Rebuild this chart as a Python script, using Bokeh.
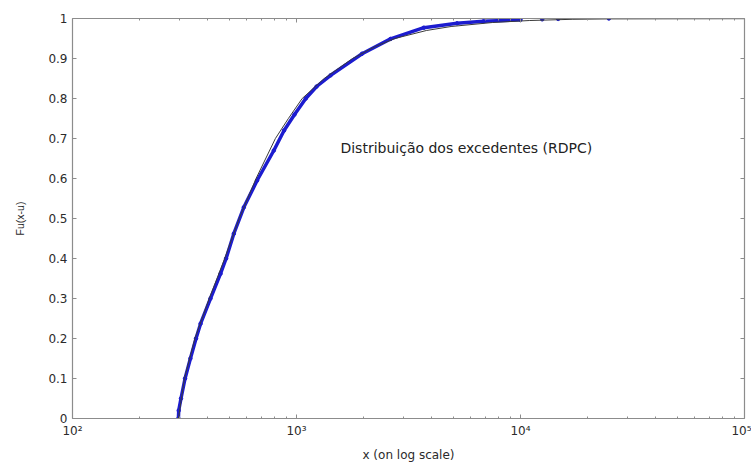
from bokeh.plotting import figure
from bokeh.models import FixedTicker, LogAxis, LinearAxis, Label
from bokeh.embed import file_html
from bokeh.resources import INLINE

emp_x = [297, 298, 305, 318, 336, 356, 373, 413, 458, 485, 525, 582, 667, 792,
         880, 980, 1100, 1230, 1420, 1963, 2630, 3700, 5210, 6840, 10000]
emp_f = [0.0, 0.02, 0.05, 0.10, 0.15, 0.20, 0.237, 0.30, 0.362, 0.40, 0.462, 0.528,
         0.595, 0.67, 0.72, 0.76, 0.80, 0.83, 0.858, 0.912, 0.949, 0.977, 0.988,
         0.993, 0.997]
# isolated points of the upper tail
tail_x = [12500, 14730, 24800]
tail_f = [0.998, 0.999, 1.0]

# Fitted distribution (thin black line)
fit_x = [297, 316, 352, 408, 478, 555, 660, 805, 920, 1060, 1330, 1780, 2250,
         2750, 3800, 4900, 7500, 11000, 17000, 25000, 100000]
fit_f = [0.0, 0.10, 0.20, 0.30, 0.40, 0.50, 0.60, 0.70, 0.75, 0.80, 0.85, 0.90,
         0.93, 0.95, 0.97, 0.98, 0.99, 0.995, 0.998, 0.999, 0.9995]

x_ticks = [100, 1000, 10000, 100000]
x_tick_labels = ["10\u00b2", "10\u00b3", "10\u2074", "10\u2075"]
y_ticks = [0, 0.1, 0.2, 0.3, 0.4, 0.5, 0.6, 0.7, 0.8, 0.9, 1]
y_tick_labels = ["0", "0.1", "0.2", "0.3", "0.4", "0.5", "0.6", "0.7", "0.8", "0.9", "1"]
annotation = "Distribuição dos excedentes (RDPC)"

minor_x = [m * d for d in x_ticks[:-1] for m in range(2, 10)]

FONT = "DejaVu Sans"
AX = "#8c8c8c"
TXT = "#2b2b2b"

p = figure(width=751, height=464, x_axis_type="log", x_range=(100, 100000),
           y_range=(0, 1), output_backend="svg", toolbar_location=None,
           min_border_left=72, min_border_right=7, min_border_top=18,
           min_border_bottom=46)
p.background_fill_color = "white"
p.border_fill_color = "white"
p.outline_line_color = None
p.xgrid.visible = False
p.ygrid.visible = False

xt = FixedTicker(ticks=x_ticks, minor_ticks=minor_x)
yt = FixedTicker(ticks=y_ticks, minor_ticks=[])


def style(ax):
    ax.axis_line_color = AX
    ax.axis_line_width = 1.2
    ax.major_tick_line_color = AX
    ax.minor_tick_line_color = AX
    ax.major_tick_in = 4
    ax.major_tick_out = 0
    ax.minor_tick_in = 2
    ax.minor_tick_out = 0
    ax.major_label_text_font = FONT
    ax.major_label_text_font_size = "12px"
    ax.major_label_text_color = TXT
    ax.axis_label_text_font = FONT
    ax.axis_label_text_font_size = "12px"
    ax.axis_label_text_font_style = "normal"
    ax.axis_label_text_color = TXT


xa = p.xaxis[0]
xa.ticker = xt
xa.major_label_overrides = dict(zip(x_ticks, x_tick_labels))
style(xa)
xa.major_label_standoff = 5
xa.axis_label = "x (on log scale)"
xa.axis_label_standoff = 7

ya = p.yaxis[0]
ya.ticker = yt
ya.major_label_overrides = dict(zip(y_ticks, y_tick_labels))
style(ya)
ya.major_label_standoff = 5
ya.axis_label = "Fu(x-u)"
ya.axis_label_text_font = "Liberation Sans"
ya.axis_label_text_font_size = "10.5px"
ya.axis_label_standoff = 19

top = LogAxis(ticker=FixedTicker(ticks=x_ticks, minor_ticks=minor_x))
style(top)
top.major_label_text_font_size = "2px"
top.major_label_text_alpha = 0
top.major_label_standoff = 0
p.add_layout(top, "above")

right = LinearAxis(ticker=FixedTicker(ticks=y_ticks, minor_ticks=[]))
style(right)
right.major_label_text_font_size = "2px"
right.major_label_text_alpha = 0
right.major_label_standoff = 0
p.add_layout(right, "right")

BLUE = "#1c1ccf"
p.line(emp_x, emp_f, line_color=BLUE, line_width=3.5)
p.scatter(emp_x, emp_f, size=3.5, color=BLUE)
p.scatter(tail_x, tail_f, size=3.5, color=BLUE)
p.line(fit_x, fit_f, line_color="#3a3a3a", line_width=1)

p.add_layout(Label(x=1571, y=0.6775, text=annotation, text_font=FONT,
                   text_font_size="14px", text_color="#222222",
                   text_baseline="middle", text_align="left"))

open("out.html", "w").write(file_html(p, INLINE))
